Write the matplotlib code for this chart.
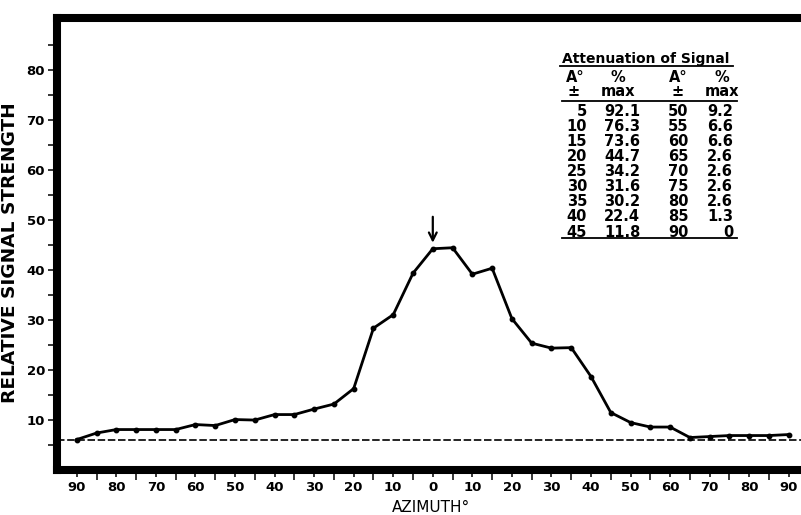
import numpy as np
import matplotlib.pyplot as plt
from matplotlib.lines import Line2D
from matplotlib.ticker import FuncFormatter

# azimuth (deg) and relative signal strength
azimuth = [-90, -85, -80, -75, -70, -65, -60, -55, -50, -45, -40, -35, -30,
           -25, -20, -15, -10, -5, 0, 5, 10, 15, 20, 25, 30, 35, 40, 45,
           50, 55, 60, 65, 70, 75, 80, 85, 90]
signal = [6.0, 7.3, 8.0, 8.0, 8.0, 8.0, 9.0, 8.8, 10.0, 9.9, 11.0, 11.0, 12.1,
          13.1, 16.2, 28.3, 31.0, 39.3, 44.2, 44.4, 39.1, 40.3, 30.2, 25.3,
          24.3, 24.4, 18.6, 11.4, 9.4, 8.5, 8.5, 6.4, 6.6, 6.8, 6.8, 6.8, 7.0]
baseline = 6.0
peak_azimuth = 0

# attenuation table
angle_left = ["5", "10", "15", "20", "25", "30", "35", "40", "45"]
pct_left = ["92.1", "76.3", "73.6", "44.7", "34.2", "31.6", "30.2", "22.4", "11.8"]
angle_right = ["50", "55", "60", "65", "70", "75", "80", "85", "90"]
pct_right = ["9.2", "6.6", "6.6", "2.6", "2.6", "2.6", "2.6", "1.3", "0"]

W, H = 801, 515
fig = plt.figure(figsize=(W / 100, H / 100), dpi=100)
ax = fig.add_axes([57 / W, 45.5 / H, 751.6 / W, 452 / H])


def px(x, y):
    # pixel position (from top-left) -> figure fraction
    return x / W, 1 - y / H


ax.plot(azimuth, signal, color="black", lw=2.0, marker="o", ms=3.2,
        solid_joinstyle="miter", zorder=3)
ax.axhline(baseline, color="black", lw=1.2, dashes=(4.5, 1.6), zorder=2)

ax.annotate("", xy=(peak_azimuth, 45.4), xytext=(peak_azimuth, 50.6),
            arrowprops=dict(arrowstyle="->", lw=1.6, color="black",
                            mutation_scale=14, shrinkA=0, shrinkB=0))

ax.set_xlim(-95, 95)
ax.set_ylim(0, 90.5)

ax.set_xticks(np.arange(-90, 91, 10))
ax.set_xticks(np.arange(-85, 90, 10), minor=True)
ax.xaxis.set_major_formatter(FuncFormatter(lambda v, p: "%d" % abs(v)))
ax.set_yticks(np.arange(10, 81, 10))
ax.set_yticks(np.arange(5, 90, 10), minor=True)

for s in ax.spines.values():
    s.set_linewidth(5.8)
    s.set_capstyle("projecting")

ax.tick_params(axis="x", which="major", length=5, width=1.1, pad=3.3)
ax.tick_params(axis="x", which="minor", length=7.5, width=1.1)
ax.tick_params(axis="y", which="both", length=6.5, width=1.1, pad=2.2)
for lab in ax.get_xticklabels() + ax.get_yticklabels():
    lab.set_fontweight("bold")
    lab.set_fontsize(9.5)

fig.text(*px(10, 253), "RELATIVE SIGNAL STRENGTH", rotation=90,
         ha="center", va="center", fontsize=13.3, fontweight="bold")
fig.text(*px(431, 508), "AZIMUTH°", ha="center", va="center", fontsize=11)

# table
tfont = dict(fontsize=10.5, fontweight="bold", va="center")
fig.text(*px(646, 59), "Attenuation of Signal", ha="center",
         fontsize=10, fontweight="bold", va="center")
fig.add_artist(Line2D([560 / W, 733 / W], [1 - 66 / H, 1 - 66 / H],
                      color="black", lw=1.3))
for cx, txt in [(575, "A°"), (618, "%"), (678, "A°"), (722, "%")]:
    fig.text(*px(cx, 78), txt, ha="center", **tfont)
for cx, txt in [(574, "±"), (618, "max"), (678, "±"), (722, "max")]:
    fig.text(*px(cx, 92), txt, ha="center", **tfont)
for yy in [101, 238]:
    fig.add_artist(Line2D([562 / W, 737 / W], [1 - yy / H, 1 - yy / H],
                          color="black", lw=1.3))
for i in range(len(angle_left)):
    ry = 111.7 + i * 15.04
    fig.text(*px(587, ry), angle_left[i], ha="right", **tfont)
    fig.text(*px(622, ry), pct_left[i], ha="center", **tfont)
    fig.text(*px(678, ry), angle_right[i], ha="center", **tfont)
    fig.text(*px(733, ry), pct_right[i], ha="right", **tfont)

plt.savefig("out.png", dpi=100)
